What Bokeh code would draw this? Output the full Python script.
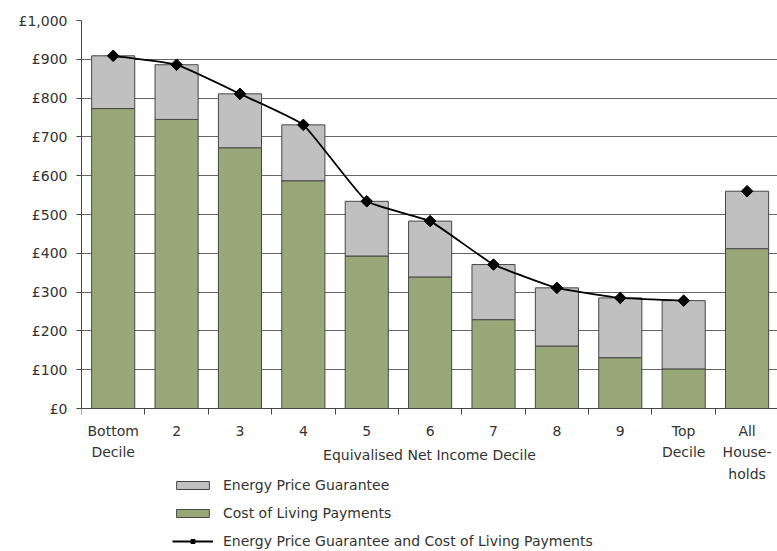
import numpy as np
from bokeh.plotting import figure
from bokeh.models import (ColumnDataSource, FixedTicker, Range1d, Legend,
                          LegendItem)
from bokeh.embed import file_html
from bokeh.resources import INLINE

# Deciles of equivalised net income, plus the all-household average
categories = ["Bottom\nDecile", "2", "3", "4", "5", "6", "7", "8", "9",
              "Top\nDecile", "All\nHouse-\nholds"]
cost_of_living = [773, 745, 672, 587, 393, 339, 229, 161, 131, 102, 412]
energy_price_guarantee = [136, 141, 139, 144, 141, 144, 142, 150, 154, 176, 148]
y_ticks = [0, 100, 200, 300, 400, 500, 600, 700, 800, 900, 1000]
y_tick_labels = ["£0", "£100", "£200", "£300", "£400", "£500", "£600",
                 "£700", "£800", "£900", "£1,000"]

FONT = "DejaVu Sans"
TEXT = "#333333"
GREEN = "#99a878"
GREY = "#c0c0c0"
EDGE = "#474747"

W, H = 777, 551
LEFT, TOP = 81, 20
PLOT_H = 388            # pixels from £0 to £1,000
X_END = 10.98
FRAME_W = W - LEFT
FRAME_H = H - TOP
# The frame runs to the bottom of the canvas so that the tick labels,
# axis title and key all sit inside it, under the £0 line.
Y_START = -1000.0 * (FRAME_H - PLOT_H) / PLOT_H

n = len(categories)
xs = [i + 0.5 for i in range(n)]
totals = [c + e for c, e in zip(cost_of_living, energy_price_guarantee)]

src = ColumnDataSource(dict(x=xs, col=cost_of_living, epg=energy_price_guarantee))

p = figure(width=W, height=H, output_backend="svg", toolbar_location=None,
           x_range=Range1d(0, X_END), y_range=Range1d(Y_START, 1000),
           min_border_left=LEFT, min_border_right=0, min_border_top=TOP,
           min_border_bottom=0)
p.outline_line_color = None
p.background_fill_color = "white"

# Stacked bars: payments at the bottom, price guarantee on top
bars = p.vbar_stack(["col", "epg"], x="x", width=0.68, source=src,
                    fill_color=[GREEN, GREY], line_color=EDGE, line_width=1)

# Lightly smoothed line through the decile totals (All Households stands
# alone). Handles follow the neighbour-to-neighbour direction, with lengths
# proportional to each adjoining segment as seen on screen.
SMOOTH = 0.12
kx = FRAME_W / X_END
ky = PLOT_H / 1000.0
lx = np.array(xs[:10]) * kx
ly = np.array(totals[:10]) * ky
m = len(lx)
tx = np.zeros(m); ty = np.zeros(m)
for i in range(m):
    a = max(i - 1, 0); b = min(i + 1, m - 1)
    dx, dy = lx[b] - lx[a], ly[b] - ly[a]
    d = np.hypot(dx, dy)
    tx[i], ty[i] = dx / d, dy / d
x0, y0, x1, y1, cx0, cy0, cx1, cy1 = ([] for _ in range(8))
for i in range(m - 1):
    seg = np.hypot(lx[i + 1] - lx[i], ly[i + 1] - ly[i]) * SMOOTH
    x0.append(lx[i] / kx); y0.append(ly[i] / ky)
    x1.append(lx[i + 1] / kx); y1.append(ly[i + 1] / ky)
    cx0.append((lx[i] + tx[i] * seg) / kx)
    cy0.append((ly[i] + ty[i] * seg) / ky)
    cx1.append((lx[i + 1] - tx[i + 1] * seg) / kx)
    cy1.append((ly[i + 1] - ty[i + 1] * seg) / ky)
p.bezier(x0=x0, y0=y0, x1=x1, y1=y1, cx0=cx0, cy0=cy0, cx1=cx1, cy1=cy1,
         line_color="black", line_width=1.8)
dots = p.scatter(xs, totals, marker="square", angle=np.pi / 4, size=8.2,
                 fill_color="black", line_color="black")

# Key-only renderers for the line entry (nothing is plotted by them)
line_key = p.line([np.nan], [np.nan], line_color="black", line_width=1.8)
dot_key = p.scatter([np.nan], [np.nan], marker="square", angle=np.pi / 4,
                    size=6, fill_color="black", line_color="black")

# Axes
p.xgrid.visible = False
p.ygrid.ticker = FixedTicker(ticks=y_ticks)
p.ygrid.grid_line_color = "#656565"
p.ygrid.grid_line_width = 1

ya = p.yaxis[0]
ya.ticker = FixedTicker(ticks=y_ticks)
ya.bounds = (0, 1000)
ya.major_label_overrides = dict(zip(y_ticks, y_tick_labels))
ya.major_tick_out = 5
ya.major_tick_in = 0
ya.minor_tick_out = 0
ya.axis_line_color = EDGE
ya.major_tick_line_color = EDGE
ya.major_label_standoff = 9
ya.major_label_text_font = FONT
ya.major_label_text_font_size = "14px"
ya.major_label_text_color = TEXT

xa = p.xaxis[0]
xa.fixed_location = 0
xa.ticker = FixedTicker(ticks=xs, minor_ticks=list(range(n)))
xa.major_label_overrides = dict(zip(xs, categories))
xa.major_tick_out = 0
xa.major_tick_in = 0
xa.minor_tick_out = 6
xa.minor_tick_in = 0
xa.minor_tick_line_color = EDGE
xa.axis_line_color = EDGE
xa.major_label_standoff = 8
xa.major_label_text_font = FONT
xa.major_label_text_font_size = "14px"
xa.major_label_text_color = TEXT
xa.major_label_text_line_height = 1.35
xa.axis_label = "Equivalised Net Income Decile"
xa.axis_label_standoff = -38
xa.axis_label_text_font = FONT
xa.axis_label_text_font_size = "14px"
xa.axis_label_text_font_style = "normal"
xa.axis_label_text_color = TEXT

legend = Legend(items=[
    LegendItem(label="Energy Price Guarantee", renderers=[bars[1]]),
    LegendItem(label="Cost of Living Payments", renderers=[bars[0]]),
    LegendItem(label="Energy Price Guarantee and Cost of Living Payments",
               renderers=[line_key, dot_key]),
], location=(91, 0), orientation="vertical", glyph_width=41, glyph_height=10,
    label_height=20, spacing=8, padding=0, margin=0,
    label_text_font=FONT, label_text_font_size="14px", label_text_color=TEXT,
    label_standoff=10, border_line_color=None, background_fill_alpha=0)
p.add_layout(legend, "center")

open("out.html", "w").write(file_html(p, INLINE))
